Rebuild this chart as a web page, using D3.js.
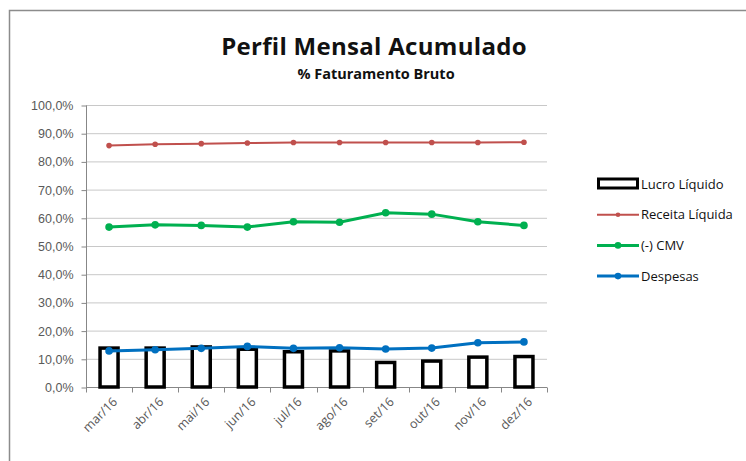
<!DOCTYPE html>
<html>
<head>
<meta charset="utf-8">
<script src="https://cdn.jsdelivr.net/npm/d3@7"></script>
<style>
  body { margin: 0; background: #fff; }
  svg { display: block; font-family: "Open Sans", "Noto Sans", sans-serif; }
  .axis-scale text { fill: #595959; font-size: 12.5px; }
  .axis-scale path, .axis-scale line { stroke: #878787; }
</style>
</head>
<body>
<div id="chart-container"></div>
<script>
// months on the x axis
var MONTHS = ["mar/16", "abr/16", "mai/16", "jun/16", "jul/16", "ago/16", "set/16", "out/16", "nov/16", "dez/16"];
// series values, % of gross revenue
var LUCRO = [13.8, 13.8, 14.2, 13.4, 12.5, 12.8, 8.7, 9.2, 10.6, 10.8];
var RECEITA = [85.6, 86.1, 86.3, 86.5, 86.7, 86.7, 86.7, 86.7, 86.7, 86.8];
var CMV = [56.7, 57.5, 57.3, 56.7, 58.6, 58.4, 61.8, 61.3, 58.6, 57.3];
var DESPESAS = [12.8, 13.2, 13.7, 14.4, 13.7, 13.9, 13.5, 13.8, 15.7, 16.0];
// y axis ticks
var Y_TICKS = [0, 10, 20, 30, 40, 50, 60, 70, 80, 90, 100];

function drawChart() {
    var W = 746, H = 461;
    var plot = { left: 86, right: 547, top: 105, bottom: 387 };

    var svg = d3.select("#chart-container")
        .append("svg")
        .attr("width", W)
        .attr("height", H);

    // chart frame (only top and left edges are visible)
    svg.append("path")
        .attr("d", "M9.5," + H + "V10.5H" + W)
        .attr("fill", "none")
        .attr("stroke", "#8c8c8c")
        .attr("stroke-width", 1.5);

    // titles
    svg.append("text")
        .attr("x", 374).attr("y", 55)
        .attr("text-anchor", "middle")
        .attr("font-size", "24px")
        .attr("font-weight", "bold")
        .attr("letter-spacing", "0.3px")
        .attr("fill", "#111")
        .text("Perfil Mensal Acumulado");
    svg.append("text")
        .attr("x", 376).attr("y", 79)
        .attr("text-anchor", "middle")
        .attr("font-size", "14.5px")
        .attr("font-weight", "bold")
        .attr("fill", "#111")
        .text("% Faturamento Bruto");

    // scales
    var x = d3.scaleBand()
        .domain(MONTHS)
        .range([plot.left, plot.right]);
    var y = d3.scaleLinear()
        .domain([0, 100])
        .range([plot.bottom, plot.top]);
    var cx = function (m) { return x(m) + x.bandwidth() / 2; };

    // gridlines
    svg.append("g")
        .selectAll("line")
        .data(Y_TICKS.slice(1))
        .enter()
        .append("line")
        .attr("x1", plot.left).attr("x2", plot.right)
        .attr("y1", function (d) { return y(d) + 0.5; })
        .attr("y2", function (d) { return y(d) + 0.5; })
        .attr("stroke", "#c8c8c8");

    // y axis
    var fmt = function (d) { return d3.format(".1f")(d).replace(".", ",") + "%"; };
    svg.append("g")
        .attr("class", "axis-scale")
        .attr("transform", "translate(" + (plot.left + 0.5) + ",0.5)")
        .call(d3.axisLeft(y).tickValues(Y_TICKS).tickFormat(fmt).tickSize(5).tickSizeOuter(0).tickPadding(8))
        .call(function (g) { g.select(".domain").attr("d", "M0," + plot.top + "V" + plot.bottom); });

    // x axis with ticks between categories
    var xAxis = svg.append("g")
        .attr("class", "axis-scale")
        .attr("transform", "translate(0," + (plot.bottom + 0.5) + ")");
    xAxis.append("line")
        .attr("x1", plot.left).attr("x2", plot.right)
        .attr("stroke", "#878787");
    xAxis.selectAll(".tk")
        .data(MONTHS.concat(["end"]))
        .enter()
        .append("line")
        .attr("x1", function (d, i) { return Math.round(plot.left + i * x.bandwidth()) + 0.5; })
        .attr("x2", function (d, i) { return Math.round(plot.left + i * x.bandwidth()) + 0.5; })
        .attr("y1", 0).attr("y2", 5)
        .attr("stroke", "#878787");
    xAxis.selectAll("text")
        .data(MONTHS)
        .enter()
        .append("text")
        .attr("text-anchor", "end")
        .attr("font-size", "13.5px")
        .attr("fill", "#404040")
        .attr("transform", function (d) { return "translate(" + (cx(d) + 6) + ",12) rotate(-45)"; })
        .attr("dy", "0.35em")
        .text(function (d) { return d; });

    // bars: Lucro Liquido
    var barW = 18;
    svg.append("g")
        .selectAll("rect")
        .data(LUCRO)
        .enter()
        .append("rect")
        .attr("x", function (d, i) { return cx(MONTHS[i]) - barW / 2; })
        .attr("y", function (d) { return y(d); })
        .attr("width", barW)
        .attr("height", function (d) { return plot.bottom - y(d); })
        .attr("fill", "#fff")
        .attr("stroke", "#000")
        .attr("stroke-width", 3.5);

    // line series
    var series = [
        { name: "Receita Líquida", values: RECEITA, color: "#C0504D", width: 2, r: 2.8 },
        { name: "(-) CMV", values: CMV, color: "#00B050", width: 3, r: 3.8 },
        { name: "Despesas", values: DESPESAS, color: "#0070C0", width: 3, r: 3.8 }
    ];
    var line = d3.line()
        .x(function (d, i) { return cx(MONTHS[i]); })
        .y(function (d) { return y(d); });
    series.forEach(function (s) {
        svg.append("path")
            .datum(s.values)
            .attr("d", line)
            .attr("fill", "none")
            .attr("stroke", s.color)
            .attr("stroke-width", s.width);
        svg.append("g")
            .selectAll("circle")
            .data(s.values)
            .enter()
            .append("circle")
            .attr("cx", function (d, i) { return cx(MONTHS[i]); })
            .attr("cy", function (d) { return y(d); })
            .attr("r", s.r)
            .attr("fill", s.color);
    });

    // legend
    var legend = svg.append("g")
        .attr("font-size", "13px")
        .attr("fill", "#111");
    var lx = 597, ly = 184, step = 30.7;
    legend.append("rect")
        .attr("x", lx + 1.5).attr("y", ly - 5)
        .attr("width", 39).attr("height", 9)
        .attr("fill", "#fff").attr("stroke", "#000").attr("stroke-width", 3);
    legend.append("text")
        .attr("x", lx + 44).attr("y", ly).attr("dy", "0.35em")
        .text("Lucro Líquido");
    series.forEach(function (s, i) {
        var yy = ly + (i + 1) * step;
        legend.append("line")
            .attr("x1", lx).attr("x2", lx + 42)
            .attr("y1", yy).attr("y2", yy)
            .attr("stroke", s.color).attr("stroke-width", s.width);
        legend.append("circle")
            .attr("cx", lx + 21).attr("cy", yy).attr("r", s.r - 0.5)
            .attr("fill", s.color);
        legend.append("text")
            .attr("x", lx + 44).attr("y", yy).attr("dy", "0.35em")
            .text(s.name);
    });
}

window.onload = function () {
    drawChart();
};
</script>
</body>
</html>
